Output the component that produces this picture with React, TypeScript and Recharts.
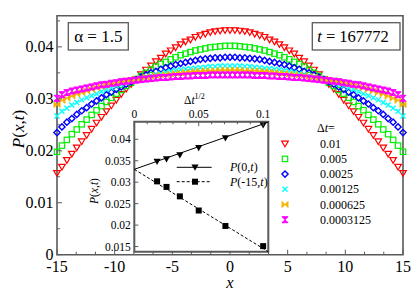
import React from 'react';
import { ScatterChart, Scatter, XAxis, YAxis, ReferenceArea } from 'recharts';

// lattice positions x
const xs = [
  -15, -14.571, -14.143, -13.714, -13.286, -12.857, -12.429, -12, -11.571, -11.143, -10.714, -10.286,
  -9.857, -9.429, -9, -8.571, -8.143, -7.714, -7.286, -6.857, -6.429, -6, -5.571, -5.143, -4.714, -4.286,
  -3.857, -3.429, -3, -2.571, -2.143, -1.714, -1.286, -0.857, -0.429, 0, 0.429, 0.857, 1.286, 1.714,
  2.143, 2.571, 3, 3.429, 3.857, 4.286, 4.714, 5.143, 5.571, 6, 6.429, 6.857, 7.286, 7.714, 8.143,
  8.571, 9, 9.429, 9.857, 10.286, 10.714, 11.143, 11.571, 12, 12.429, 12.857, 13.286, 13.714, 14.143,
  14.571, 15,
];

// P(x,t) for dt = 0.01
const pRed = [
  0.0157, 0.0169, 0.0182, 0.0194, 0.0206, 0.0218, 0.0230, 0.0242, 0.0254, 0.0265, 0.0276, 0.0287,
  0.0298, 0.0309, 0.0319, 0.0328, 0.0338, 0.0347, 0.0356, 0.0364, 0.0372, 0.0379, 0.0387, 0.0393,
  0.0399, 0.0405, 0.0410, 0.0414, 0.0419, 0.0422, 0.0425, 0.0428, 0.0430, 0.0431, 0.0432, 0.0432,
  0.0432, 0.0431, 0.0430, 0.0428, 0.0425, 0.0422, 0.0419, 0.0414, 0.0410, 0.0405, 0.0399, 0.0393,
  0.0387, 0.0379, 0.0372, 0.0364, 0.0356, 0.0347, 0.0338, 0.0328, 0.0319, 0.0309, 0.0298, 0.0287,
  0.0276, 0.0265, 0.0254, 0.0242, 0.0230, 0.0218, 0.0206, 0.0194, 0.0182, 0.0169, 0.0157,
];
// dt = 0.005
const pGreen = [
  0.0198, 0.0210, 0.0221, 0.0232, 0.0241, 0.0251, 0.0260, 0.0269, 0.0278, 0.0286, 0.0294, 0.0302,
  0.0310, 0.0317, 0.0325, 0.0331, 0.0338, 0.0344, 0.0350, 0.0356, 0.0362, 0.0367, 0.0371, 0.0376,
  0.0380, 0.0384, 0.0387, 0.0390, 0.0393, 0.0395, 0.0397, 0.0399, 0.0400, 0.0401, 0.0402, 0.0402,
  0.0402, 0.0401, 0.0400, 0.0399, 0.0397, 0.0395, 0.0393, 0.0390, 0.0387, 0.0384, 0.0380, 0.0376,
  0.0371, 0.0367, 0.0362, 0.0356, 0.0350, 0.0344, 0.0338, 0.0331, 0.0325, 0.0317, 0.0310, 0.0302,
  0.0294, 0.0286, 0.0278, 0.0269, 0.0260, 0.0251, 0.0241, 0.0232, 0.0221, 0.0210, 0.0198,
];
// dt = 0.0025
const pBlue = [
  0.0235, 0.0246, 0.0255, 0.0262, 0.0270, 0.0277, 0.0283, 0.0290, 0.0296, 0.0302, 0.0308, 0.0313,
  0.0318, 0.0323, 0.0328, 0.0333, 0.0337, 0.0342, 0.0346, 0.0350, 0.0353, 0.0357, 0.0360, 0.0363,
  0.0366, 0.0368, 0.0370, 0.0372, 0.0374, 0.0376, 0.0377, 0.0378, 0.0379, 0.0379, 0.0380, 0.0380,
  0.0380, 0.0379, 0.0379, 0.0378, 0.0377, 0.0376, 0.0374, 0.0372, 0.0370, 0.0368, 0.0366, 0.0363,
  0.0360, 0.0357, 0.0353, 0.0350, 0.0346, 0.0342, 0.0337, 0.0333, 0.0328, 0.0323, 0.0318, 0.0313,
  0.0308, 0.0302, 0.0296, 0.0290, 0.0283, 0.0277, 0.0270, 0.0262, 0.0255, 0.0246, 0.0235,
];
// dt = 0.00125
const pCyan = [
  0.0267, 0.0276, 0.0282, 0.0288, 0.0293, 0.0298, 0.0302, 0.0306, 0.0310, 0.0314, 0.0318, 0.0321,
  0.0325, 0.0328, 0.0331, 0.0334, 0.0337, 0.0340, 0.0342, 0.0344, 0.0347, 0.0349, 0.0351, 0.0353,
  0.0354, 0.0356, 0.0357, 0.0358, 0.0359, 0.0360, 0.0361, 0.0362, 0.0362, 0.0363, 0.0363, 0.0363,
  0.0363, 0.0363, 0.0362, 0.0362, 0.0361, 0.0360, 0.0359, 0.0358, 0.0357, 0.0356, 0.0354, 0.0353,
  0.0351, 0.0349, 0.0347, 0.0344, 0.0342, 0.0340, 0.0337, 0.0334, 0.0331, 0.0328, 0.0325, 0.0321,
  0.0318, 0.0314, 0.0310, 0.0306, 0.0302, 0.0298, 0.0293, 0.0288, 0.0282, 0.0276, 0.0267,
];
// dt = 0.000625
const pOrange = [
  0.0289, 0.0297, 0.0301, 0.0305, 0.0309, 0.0312, 0.0315, 0.0318, 0.0321, 0.0323, 0.0326, 0.0328,
  0.0330, 0.0333, 0.0335, 0.0336, 0.0338, 0.0340, 0.0342, 0.0343, 0.0345, 0.0346, 0.0347, 0.0348,
  0.0349, 0.0350, 0.0351, 0.0352, 0.0353, 0.0353, 0.0354, 0.0354, 0.0354, 0.0355, 0.0355, 0.0355,
  0.0355, 0.0355, 0.0354, 0.0354, 0.0354, 0.0353, 0.0353, 0.0352, 0.0351, 0.0350, 0.0349, 0.0348,
  0.0347, 0.0346, 0.0345, 0.0343, 0.0342, 0.0340, 0.0338, 0.0336, 0.0335, 0.0333, 0.0330, 0.0328,
  0.0326, 0.0323, 0.0321, 0.0318, 0.0315, 0.0312, 0.0309, 0.0305, 0.0301, 0.0297, 0.0289,
];
// dt = 0.0003125
const pMagenta = [
  0.0301, 0.0308, 0.0312, 0.0315, 0.0317, 0.0319, 0.0321, 0.0323, 0.0325, 0.0327, 0.0328, 0.0330,
  0.0331, 0.0333, 0.0334, 0.0335, 0.0336, 0.0337, 0.0338, 0.0339, 0.0340, 0.0341, 0.0341, 0.0342,
  0.0343, 0.0343, 0.0344, 0.0344, 0.0345, 0.0345, 0.0345, 0.0346, 0.0346, 0.0346, 0.0346, 0.0346,
  0.0346, 0.0346, 0.0346, 0.0346, 0.0345, 0.0345, 0.0345, 0.0344, 0.0344, 0.0343, 0.0343, 0.0342,
  0.0341, 0.0341, 0.0340, 0.0339, 0.0338, 0.0337, 0.0336, 0.0335, 0.0334, 0.0333, 0.0331, 0.0330,
  0.0328, 0.0327, 0.0325, 0.0323, 0.0321, 0.0319, 0.0317, 0.0315, 0.0312, 0.0308, 0.0301,
];

const dtLabels = ['0.01', '0.005', '0.0025', '0.00125', '0.000625', '0.0003125'];
const xTicks = [-15, -13.333, -11.667, -10, -8.333, -6.667, -5, -3.333, -1.667, 0, 1.667, 3.333, 5, 6.667, 8.333, 10, 11.667, 13.333, 15];
const yTicks = [0, 0.005, 0.01, 0.015, 0.02, 0.025, 0.03, 0.035, 0.04, 0.045];

// inset: P vs sqrt(dt)
const dtSqrt = [0.01768, 0.025, 0.03536, 0.05, 0.07071, 0.1];
const pCenter = [0.0348, 0.0354, 0.0363, 0.0380, 0.0403, 0.0433];
const pEdge = [0.0302, 0.0289, 0.0267, 0.0234, 0.0198, 0.0151];
const fitX = [0, 0.104];
const fitCenter = [0.033, 0.044];
const fitEdge = [0.033, 0.0138];
const insetXTicks = [0, 0.01, 0.02, 0.03, 0.04, 0.05, 0.06, 0.07, 0.08, 0.09, 0.1];
const insetYTicks = [0.015, 0.02, 0.025, 0.03, 0.035, 0.04];

const FONT = 'Liberation Serif, Times New Roman, serif';
const FRAME = '#5a5a5a';
const THIN = 0.001; // axes need a non-zero size to be drawn

const series = [
  { kind: 'tri', color: '#ff0000', values: pRed },
  { kind: 'square', color: '#00ee00', values: pGreen },
  { kind: 'diamond', color: '#0000ff', values: pBlue },
  { kind: 'cross', color: '#00ffff', values: pCyan },
  { kind: 'bowtie', color: '#f2b600', values: pOrange },
  { kind: 'hourglass', color: '#ff00ff', values: pMagenta },
];

const Marker = ({ kind, cx, cy, color }: any) => {
  if (cx == null || cy == null) return <g />;
  switch (kind) {
    case 'tri':
      return <polygon points={`${cx - 3.3},${cy - 2.5} ${cx + 3.3},${cy - 2.5} ${cx},${cy + 3.1}`} fill="none" stroke={color} strokeWidth={1.2} />;
    case 'square':
      return <rect x={cx - 2.7} y={cy - 2.7} width={5.4} height={5.4} fill="none" stroke={color} strokeWidth={1.2} />;
    case 'diamond':
      return <polygon points={`${cx},${cy - 3.1} ${cx + 3.1},${cy} ${cx},${cy + 3.1} ${cx - 3.1},${cy}`} fill="none" stroke={color} strokeWidth={1.4} />;
    case 'cross':
      return <path d={`M${cx - 2.5},${cy - 2.5}L${cx + 2.5},${cy + 2.5}M${cx + 2.5},${cy - 2.5}L${cx - 2.5},${cy + 2.5}`} stroke={color} strokeWidth={1.4} />;
    case 'bowtie':
      return <path d={`M${cx - 3},${cy - 3}L${cx},${cy}L${cx - 3},${cy + 3}ZM${cx + 3},${cy - 3}L${cx},${cy}L${cx + 3},${cy + 3}Z`} fill={color} stroke={color} strokeWidth={1} />;
    case 'hourglass':
      return <path d={`M${cx - 3},${cy - 3}L${cx + 3},${cy - 3}L${cx},${cy}ZM${cx - 3},${cy + 3}L${cx + 3},${cy + 3}L${cx},${cy}Z`} fill={color} stroke={color} strokeWidth={1} />;
    case 'blackTri':
      return <polygon points={`${cx - 3.6},${cy - 2.8} ${cx + 3.6},${cy - 2.8} ${cx},${cy + 3.4}`} fill="#000" />;
    case 'blackSquare':
      return <rect x={cx - 3} y={cy - 3} width={6} height={6} fill="#000" />;
    default:
      return <g />;
  }
};

const isMult = (v: number, step: number) => Math.abs(v / step - Math.round(v / step)) < 1e-6;

const makeTick = (side: string, step: number, major: number, minor: number, labels: boolean, fontSize: number) =>
  (props: any) => {
    const { x, y, payload } = props;
    const v = payload.value;
    const isMajor = isMult(v, step);
    const len = isMajor ? major : minor;
    const text = String(v);
    const ts = { fontFamily: FONT, fontSize };
    let line;
    let label = null;
    if (side === 'bottom') {
      line = <line x1={x} y1={y} x2={x} y2={y - len} stroke={FRAME} strokeWidth={1} />;
      if (labels && isMajor) label = <text x={x} y={y + 17.5} textAnchor="middle" style={ts} fill="#000">{text}</text>;
    } else if (side === 'top') {
      line = <line x1={x} y1={y} x2={x} y2={y + len} stroke={FRAME} strokeWidth={1} />;
      if (labels && isMajor) label = <text x={x} y={y - 4} textAnchor="middle" style={ts} fill="#000">{text}</text>;
    } else if (side === 'left') {
      line = <line x1={x} y1={y} x2={x + len} y2={y} stroke={FRAME} strokeWidth={1} />;
      if (labels && isMajor) label = <text x={x - 3.5} y={y + fontSize * 0.35} textAnchor="end" style={ts} fill="#000">{text}</text>;
    } else {
      line = <line x1={x} y1={y} x2={x - len} y2={y} stroke={FRAME} strokeWidth={1} />;
    }
    return <g>{line}{label}</g>;
  };

const MainChart = () => (
  <ScatterChart width={415} height={294} margin={{ top: 15.7, right: 12, bottom: 0, left: 0 }}>
    <XAxis xAxisId="b" type="number" dataKey="x" domain={[-15, 15]} ticks={xTicks} interval={0} height={39.3}
      axisLine={false} tickLine={false} tickSize={0} tickMargin={0} tick={makeTick('bottom', 5, 5, 3, true, 16)} />
    <XAxis xAxisId="t" orientation="top" type="number" dataKey="x" domain={[-15, 15]} ticks={xTicks} interval={0} height={THIN}
      axisLine={false} tickLine={false} tickSize={0} tickMargin={0} tick={makeTick('top', 5, 5, 3, false, 16)} />
    <YAxis yAxisId="l" type="number" dataKey="y" domain={[0, 0.046]} ticks={yTicks} interval={0} width={57}
      axisLine={false} tickLine={false} tickSize={0} tickMargin={0} tick={makeTick('left', 0.01, 5, 3, true, 16)} />
    <YAxis yAxisId="r" orientation="right" type="number" dataKey="y" domain={[0, 0.046]} ticks={yTicks} interval={0} width={THIN}
      axisLine={false} tickLine={false} tickSize={0} tickMargin={0} tick={makeTick('right', 0.01, 5, 3, false, 16)} />
    {series.map((s, i) => (
      <Scatter key={i} xAxisId="b" yAxisId="l" data={xs.map((x, j) => ({ x, y: s.values[j] }))}
        isAnimationActive={false} shape={(p: any) => <Marker kind={s.kind} cx={p.cx} cy={p.cy} color={s.color} />} />
    ))}
    <ReferenceArea xAxisId="b" yAxisId="l" x1={-15} x2={15} y1={0} y2={0.046} fill="none" fillOpacity={0} stroke={FRAME} strokeWidth={1.6} />
  </ScatterChart>
);

const InsetChart = () => (
  <ScatterChart width={415} height={294} margin={{ top: 121.7, right: 146.7, bottom: 42.3, left: 134.3 }}>
    <XAxis xAxisId="t" orientation="top" type="number" dataKey="x" domain={[0, 0.104]} ticks={insetXTicks} interval={0} height={THIN}
      axisLine={false} tickLine={false} tickSize={0} tickMargin={0} tick={makeTick('top', 0.05, 4.5, 2.5, true, 11.5)} />
    <XAxis xAxisId="b" type="number" dataKey="x" domain={[0, 0.104]} ticks={insetXTicks} interval={0} height={THIN}
      axisLine={false} tickLine={false} tickSize={0} tickMargin={0} tick={makeTick('bottom', 0.05, 4.5, 2.5, false, 11.5)} />
    <YAxis yAxisId="l" type="number" dataKey="y" domain={[0.0138, 0.0441]} ticks={insetYTicks} interval={0} width={THIN}
      axisLine={false} tickLine={false} tickSize={0} tickMargin={0} tick={makeTick('left', 0.005, 4, 4, true, 11.5)} />
    <YAxis yAxisId="r" orientation="right" type="number" dataKey="y" domain={[0.0138, 0.0441]} ticks={insetYTicks} interval={0} width={THIN}
      axisLine={false} tickLine={false} tickSize={0} tickMargin={0} tick={makeTick('right', 0.005, 4, 4, false, 11.5)} />
    <Scatter xAxisId="t" yAxisId="l" data={fitX.map((x, j) => ({ x, y: fitCenter[j] }))} fill="#000" line={{ stroke: '#000', strokeWidth: 1 }}
      isAnimationActive={false} shape={() => <g />} />
    <Scatter xAxisId="t" yAxisId="l" data={fitX.map((x, j) => ({ x, y: fitEdge[j] }))} fill="#000" line={{ stroke: '#000', strokeWidth: 1, strokeDasharray: '3 2' }}
      isAnimationActive={false} shape={() => <g />} />
    <Scatter xAxisId="t" yAxisId="l" data={dtSqrt.map((x, j) => ({ x, y: pCenter[j] }))} isAnimationActive={false}
      shape={(p: any) => <Marker kind="blackTri" cx={p.cx} cy={p.cy} />} />
    <Scatter xAxisId="t" yAxisId="l" data={dtSqrt.map((x, j) => ({ x, y: pEdge[j] }))} isAnimationActive={false}
      shape={(p: any) => <Marker kind="blackSquare" cx={p.cx} cy={p.cy} />} />
    <ReferenceArea xAxisId="t" yAxisId="l" x1={0} x2={0.104} y1={0.0138} y2={0.0441} fill="none" fillOpacity={0} stroke={FRAME} strokeWidth={2} />
  </ScatterChart>
);

const Labels = () => (
  <svg width={415} height={294} style={{ position: 'absolute', left: 0, top: 0, pointerEvents: 'none', fontFamily: FONT }}>
    {/* boxes */}
    <rect x={68.3} y={22.7} width={60} height={27.3} fill="#fff" stroke={FRAME} strokeWidth={1.3} />
    <text x={98.3} y={42} textAnchor="middle" fontSize={17}>α = 1.5</text>
    <rect x={312.3} y={22.7} width={87.7} height={27.3} fill="#fff" stroke={FRAME} strokeWidth={1.3} />
    <text x={353} y={42} textAnchor="middle" fontSize={16.5}><tspan fontStyle="italic">t</tspan> = 167772</text>
    {/* axis titles */}
    <text x={230} y={288} textAnchor="middle" fontSize={16.5} fontStyle="italic">x</text>
    <text x={24} y={129} textAnchor="middle" fontSize={17} transform="rotate(-90 24 129)">
      <tspan fontStyle="italic">P</tspan>(<tspan fontStyle="italic">x</tspan>,<tspan fontStyle="italic">t</tspan>)
    </text>
    {/* main legend */}
    <text x={317} y={132} fontSize={12}>Δ<tspan fontStyle="italic">t</tspan>=</text>
    {series.map((s, i) => (
      <g key={i}>
        <Marker kind={s.kind} cx={285} cy={143.7 + i * 15.2} color={s.color} />
        <text x={320} y={147.7 + i * 15.2} fontSize={12}>{dtLabels[i]}</text>
      </g>
    ))}
    {/* inset titles */}
    <text x={184} y={104} fontSize={11.5}>Δ<tspan fontStyle="italic">t</tspan><tspan dy={-5} fontSize={8}>1/2</tspan></text>
    <text x={98} y={191} textAnchor="middle" fontSize={11.5} transform="rotate(-90 98 191)">
      <tspan fontStyle="italic">P</tspan>(<tspan fontStyle="italic">x</tspan>,<tspan fontStyle="italic">t</tspan>)
    </text>
    {/* inset legend */}
    <line x1={176.7} y1={167.3} x2={211.7} y2={167.3} stroke="#000" strokeWidth={1} />
    <Marker kind="blackTri" cx={195} cy={167.3} />
    <text x={230} y={171.3} fontSize={12}><tspan fontStyle="italic">P</tspan>(0,<tspan fontStyle="italic">t</tspan>)</text>
    <line x1={176.7} y1={181.7} x2={211.7} y2={181.7} stroke="#000" strokeWidth={1} strokeDasharray="3 2" />
    <Marker kind="blackSquare" cx={195} cy={181.7} />
    <text x={230} y={186} fontSize={12}><tspan fontStyle="italic">P</tspan>(-15,<tspan fontStyle="italic">t</tspan>)</text>
  </svg>
);

export default function App() {
  return (
    <div style={{ position: 'absolute', left: 0, top: 0, width: 415, height: 294, background: '#fff', fontFamily: FONT }}>
      <div style={{ position: 'absolute', left: 0, top: 0 }}>
        <MainChart />
      </div>
      <div style={{ position: 'absolute', left: 134.3, top: 121.7, width: 134, height: 130, background: '#fff' }} />
      <div style={{ position: 'absolute', left: 0, top: 0 }}>
        <InsetChart />
      </div>
      <Labels />
    </div>
  );
}
